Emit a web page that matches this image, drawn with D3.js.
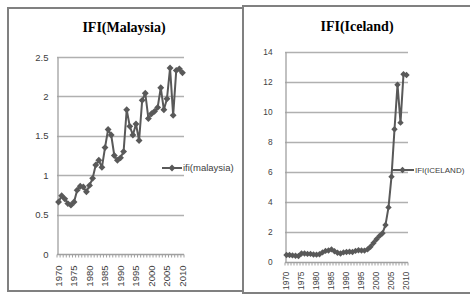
<!DOCTYPE html>
<html>
<head>
<meta charset="utf-8">
<script src="https://cdn.jsdelivr.net/npm/d3@7"></script>
<style>
  html, body { margin: 0; padding: 0; background: #fff; }
  svg { display: block; }
</style>
</head>
<body>
<svg id="chart" width="470" height="300"></svg>
<script>
// ---------- data ----------
const years = d3.range(1970, 2011).map(String);
const yearLabels = ["1970","1975","1980","1985","1990","1995","2000","2005","2010"];

const malaysiaName = "ifi(malaysia)";
const malaysiaValues = [
  0.66, 0.74, 0.70, 0.64, 0.62, 0.66, 0.81, 0.86, 0.85, 0.79,
  0.87, 0.96, 1.13, 1.19, 1.10, 1.35, 1.58, 1.51, 1.25, 1.19,
  1.22, 1.30, 1.83, 1.62, 1.51, 1.65, 1.44, 1.95, 2.04, 1.72,
  1.78, 1.81, 1.86, 2.11, 1.83, 1.97, 2.36, 1.76, 2.33, 2.35, 2.30
];
const malaysiaTicks = [0, 0.5, 1, 1.5, 2, 2.5];

const icelandName = "IFI(ICELAND)";
const icelandValues = [
  0.45, 0.45, 0.42, 0.40, 0.38, 0.55, 0.55, 0.52, 0.52, 0.48,
  0.47, 0.50, 0.62, 0.72, 0.75, 0.82, 0.70, 0.60, 0.55, 0.62,
  0.65, 0.66, 0.65, 0.72, 0.76, 0.75, 0.74, 0.82, 1.00, 1.25,
  1.50, 1.72, 1.90, 2.45, 3.62, 5.67, 8.83, 11.80, 9.27, 12.50, 12.45
];
const icelandTicks = [0, 2, 4, 6, 8, 10, 12, 14];

// ---------- drawing ----------
const svg = d3.select("#chart");
const LINE = "#595959";
const GRID = "#b0b0b0";
const AXIS = "#a0a0a0";
const TEXT = "#404040";

function panel(cfg) {
  const g = svg.append("g");
  // frame
  g.append("rect")
    .attr("x", cfg.frame[0]).attr("y", cfg.frame[1])
    .attr("width", cfg.frame[2]).attr("height", cfg.frame[3])
    .attr("fill", "#fff").attr("stroke", "#808080").attr("stroke-width", 2);

  const x = d3.scaleBand().domain(years).range([cfg.x0, cfg.x1]);
  const y = d3.scaleLinear().domain([0, cfg.ticks[cfg.ticks.length - 1]]).range([cfg.y0, cfg.y1]);

  // gridlines
  g.append("g").selectAll("line").data(cfg.ticks.filter(t => t > 0)).join("line")
    .attr("x1", cfg.x0).attr("x2", cfg.x1)
    .attr("y1", d => Math.round(y(d)) + 0.5).attr("y2", d => Math.round(y(d)) + 0.5)
    .attr("stroke", GRID).attr("stroke-width", 1.3);

  // y axis
  const ya = g.append("g").attr("transform", `translate(${cfg.x0 + 0.5},0)`)
    .call(d3.axisLeft(y).tickValues(cfg.ticks).tickSize(0).tickPadding(cfg.yPad)
      .tickFormat(d3.format("")));
  ya.select(".domain").attr("stroke", AXIS).attr("stroke-width", 1.3);
  ya.selectAll("text").attr("fill", TEXT)
    .style("font-family", "'Liberation Sans', Arial, sans-serif")
    .style("font-size", cfg.fs + "px");

  // x axis line + category tick marks
  const xa = g.append("g").attr("transform", `translate(0,${Math.round(cfg.y0) + 0.5})`);
  xa.append("line").attr("x1", cfg.x0).attr("x2", cfg.x1)
    .attr("stroke", AXIS).attr("stroke-width", 1.3);
  const bounds = years.map(d => x(d)).concat([x(years[years.length - 1]) + x.bandwidth()]);
  xa.selectAll("line.tk").data(bounds).join("line").attr("class", "tk")
    .attr("x1", d => d).attr("x2", d => d).attr("y1", 0).attr("y2", 3)
    .attr("stroke", AXIS).attr("stroke-width", 1);
  xa.selectAll("text").data(yearLabels).join("text")
    .attr("transform", d => `translate(${x(d) + x.bandwidth() / 2},${cfg.xPad}) rotate(-90)`)
    .attr("text-anchor", "end").attr("dy", "0.35em")
    .attr("fill", TEXT)
    .style("font-family", "'Liberation Sans', Arial, sans-serif")
    .style("font-size", cfg.fs + "px")
    .text(d => d);

  // series line
  const cx = d => x(d) + x.bandwidth() / 2;
  const line = d3.line().x((d, i) => cx(years[i])).y(d => y(d));
  g.append("path").datum(cfg.values)
    .attr("d", line).attr("fill", "none")
    .attr("stroke", LINE).attr("stroke-width", 2).attr("stroke-linejoin", "round");
  const diamond = d3.symbol().type(d3.symbolDiamond2).size(cfg.msize);
  g.append("g").selectAll("path").data(cfg.values).join("path")
    .attr("transform", (d, i) => `translate(${cx(years[i])},${y(d)})`)
    .attr("d", diamond).attr("fill", LINE);

  // title
  g.append("text").attr("x", cfg.titleX).attr("y", cfg.titleY)
    .attr("text-anchor", "middle").attr("fill", "#000")
    .style("font-family", "'Liberation Serif', 'Times New Roman', serif")
    .style("font-weight", "bold").style("font-size", "14px")
    .text(cfg.title);

  // legend
  const lg = g.append("g").attr("transform", `translate(${cfg.legX},${cfg.legY})`);
  lg.append("line").attr("x1", 0).attr("x2", cfg.legW).attr("stroke", LINE).attr("stroke-width", 2);
  lg.append("path").attr("transform", `translate(${cfg.legW / 2},0)`).attr("d", diamond).attr("fill", LINE);
  lg.append("text").attr("x", cfg.legW + 1).attr("dy", "0.35em").attr("fill", TEXT)
    .style("font-family", "'Liberation Sans', Arial, sans-serif")
    .style("font-size", cfg.legFs + "px")
    .text(cfg.name);
}

panel({
  frame: [8, 8, 235, 283],
  x0: 57, x1: 184, y0: 254, y1: 57,
  ticks: malaysiaTicks, values: malaysiaValues, name: malaysiaName,
  fs: 9.5, yPad: 9, xPad: 11, msize: 30,
  title: "IFI(Malaysia)", titleX: 124, titleY: 32,
  legX: 162, legY: 168, legW: 20, legFs: 9.5
});

panel({
  frame: [243, 6, 240, 287],
  x0: 285, x1: 408, y0: 261.7, y1: 51.7,
  ticks: icelandTicks, values: icelandValues, name: icelandName,
  fs: 8.3, yPad: 13, xPad: 9, msize: 26,
  title: "IFI(Iceland)", titleX: 357, titleY: 31,
  legX: 391, legY: 170, legW: 23, legFs: 8
});
</script>
</body>
</html>
